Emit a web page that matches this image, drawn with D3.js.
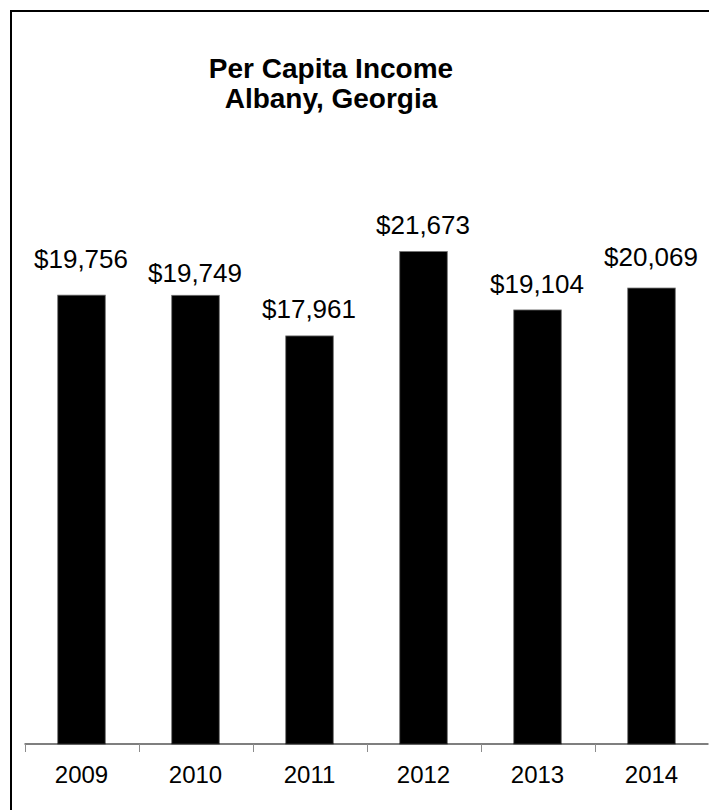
<!DOCTYPE html>
<html>
<head>
<meta charset="utf-8">
<script src="https://cdn.jsdelivr.net/npm/d3@7"></script>
<style>
  html, body { margin: 0; padding: 0; background: #fff; }
  svg { display: block; font-family: "Liberation Sans", Arial, sans-serif; }
</style>
</head>
<body>
<svg id="chart" width="709" height="810"></svg>
<script>
// Per capita income, Albany, Georgia
const years = ["2009", "2010", "2011", "2012", "2013", "2014"];
const income = [19756, 19749, 17961, 21673, 19104, 20069];
const titleLines = ["Per Capita Income", "Albany, Georgia"];

// Value labels sit at slightly different heights above each bar
const labelLift = [27, 13, 18, 18, 17, 22];

const svg = d3.select("#chart");
const W = 709, H = 810;

svg.append("rect").attr("width", W).attr("height", H).attr("fill", "#fff");

// Chart frame (runs off the right and bottom edges)
svg.append("rect")
  .attr("x", 11).attr("y", 11)
  .attr("width", W + 40).attr("height", H + 40)
  .attr("fill", "none").attr("stroke", "#000").attr("stroke-width", 2);

const x = d3.scaleBand()
  .domain(years)
  .range([24.5, 708.5])
  .paddingInner(0.583)
  .paddingOuter(0.2915);

const y = d3.scaleLinear()
  .domain([0, 25000])
  .range([744, 176]);

// Title
svg.append("g").selectAll("text")
  .data(titleLines)
  .join("text")
  .attr("x", 331)
  .attr("y", (d, i) => 78 + i * 30)
  .attr("text-anchor", "middle")
  .attr("font-size", 28)
  .attr("font-weight", "bold")
  .attr("fill", "#000")
  .text(d => d);

// Bars
const rows = years.map((yr, i) => ({ yr, v: income[i], lift: labelLift[i] }));

svg.append("g").selectAll("rect")
  .data(rows)
  .join("rect")
  .attr("x", d => x(d.yr))
  .attr("y", d => y(d.v))
  .attr("width", x.bandwidth())
  .attr("height", d => y(0) - y(d.v))
  .attr("fill", "#000")
  .attr("stroke", "#6e6e6e")
  .attr("stroke-width", 0.8);

// Value labels
const fmt = d3.format("$,");
svg.append("g").selectAll("text")
  .data(rows)
  .join("text")
  .attr("x", d => x(d.yr) + x.bandwidth() / 2 - 0.5)
  .attr("y", d => y(d.v) - d.lift)
  .attr("text-anchor", "middle")
  .attr("font-size", 26)
  .attr("fill", "#000")
  .text(d => fmt(d.v));

// Category axis with ticks between categories
const axisY = y(0);
const axisG = svg.append("g");
axisG.append("line")
  .attr("x1", x.range()[0]).attr("x2", x.range()[1])
  .attr("y1", axisY).attr("y2", axisY)
  .attr("stroke", "#000").attr("stroke-width", 1.2);

const step = x.step();
const boundaries = d3.range(years.length + 1).map(i => x.range()[0] + i * step);
axisG.selectAll("line.tick")
  .data(boundaries)
  .join("line")
  .attr("class", "tick")
  .attr("x1", d => Math.round(d) + 0.5).attr("x2", d => Math.round(d) + 0.5)
  .attr("y1", axisY).attr("y2", axisY + 8)
  .attr("stroke", "#8c8c8c").attr("stroke-width", 1);

axisG.selectAll("text")
  .data(years)
  .join("text")
  .attr("x", d => x(d) + x.bandwidth() / 2)
  .attr("y", 783)
  .attr("text-anchor", "middle")
  .attr("font-size", 24)
  .attr("fill", "#000")
  .text(d => d);
</script>
</body>
</html>
